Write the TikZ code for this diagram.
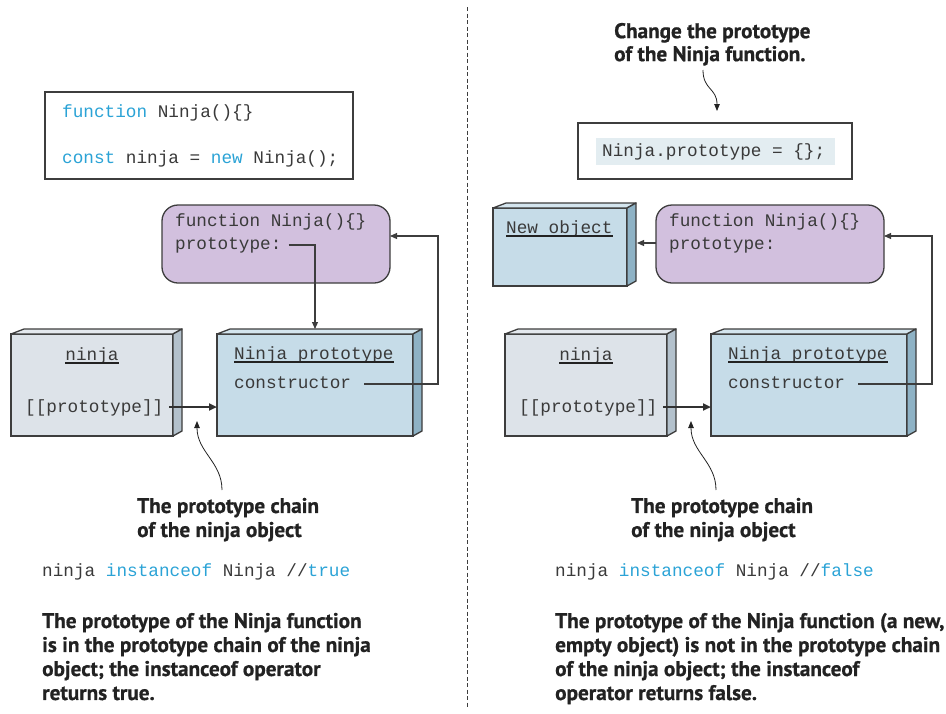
\documentclass[tikz,border=0pt]{standalone}
\usepackage{fontspec}
\setmainfont{PT Sans}
\newfontfamily\monof{Liberation Mono}
\newfontfamily\lblf{PT Sans}[BoldFeatures={FakeBold=0.8}]
\usetikzlibrary{arrows.meta}
\definecolor{edge}{HTML}{3D3D3D}
\definecolor{codegray}{HTML}{3A3A3A}
\definecolor{kwblue}{HTML}{2BA3D6}
\definecolor{purp}{HTML}{D2C0DE}
\definecolor{ninjafront}{HTML}{DDE3E9}
\definecolor{ninjaside}{HTML}{B3C1CC}
\definecolor{ninjatop}{HTML}{E4E9EE}
\definecolor{protofront}{HTML}{C6DCE8}
\definecolor{protoside}{HTML}{8EB2C5}
\definecolor{prototop}{HTML}{D4E5EE}
\definecolor{hilite}{HTML}{E3EDF1}
\definecolor{labelc}{HTML}{222222}
\newcommand\kw[1]{\textcolor{kwblue}{#1}}
\newcommand\objfaces[3]{%
  \filldraw[fill=#3,draw=edge,line width=1.3pt,line join=round]
    (#1.north west) -- ([shift={(13,-5)}]#1.north west) -- ([shift={(9,-5)}]#1.north east) -- (#1.north east) -- cycle;
  \filldraw[fill=#2,draw=edge,line width=1.3pt,line join=round]
    (#1.north east) -- ([shift={(9,-5)}]#1.north east) -- ([shift={(9,-5)}]#1.south east) -- (#1.south east) -- cycle;
}
\begin{document}
\begin{tikzpicture}[x=1pt,y=-1pt,
  mono/.style={font=\monof\fontsize{17.7}{20}\selectfont, text=codegray, inner sep=0pt, anchor=base west},
  lbl/.style={font=\lblf\bfseries\fontsize{21.2}{24}\selectfont, text=labelc, inner sep=0pt, anchor=north west, align=left},
  codebox/.style={draw=edge, line width=1.2pt, fill=white, inner sep=0pt, outer sep=0pt},
  fnbox/.style={draw=edge, line width=1.3pt, fill=purp, rounded corners=16pt, inner sep=0pt, outer sep=0pt, minimum width=228pt, minimum height=78pt},
  objbox/.style={draw=edge, line width=1.3pt, inner sep=0pt, outer sep=0pt},
  con/.style={draw=edge, line width=1.1pt, -{Triangle[length=7pt,width=6pt]}},
  thickcon/.style={draw=edge!80!black, line width=2.6pt, -{Triangle[length=8pt,width=7pt]}},
  curvecon/.style={draw=labelc, line width=0.8pt, -{Triangle[length=7pt,width=5.5pt]}},
  uline/.style={draw=labelc, line width=1.4pt}
]
\useasboundingbox (0,0) rectangle (946,713);

% divider
\coordinate (dtop) at (467,7);
\coordinate (dbot) at (467,708);
\draw[edge, line width=1pt, dash pattern=on 4pt off 2.5pt] (dtop) -- (dbot);

% ================= LEFT =================
\node[codebox, minimum width=308pt, minimum height=87pt] (codeL) at (199,135.5) {};
\node[mono] (c1) at (62,117) {\kw{function} Ninja()\{\}};
\node[mono] (c2) at (62,163) {\kw{const} ninja = \kw{new} Ninja();};

\node[fnbox] (fnL) at (276,244) {};
\node[mono] (fnL1) at (175,226) {function Ninja()\{\}};
\node[mono] (fnL2) at (175,249) {prototype:};

\node[objbox, fill=ninjafront, minimum width=162pt, minimum height=102pt] (ninL) at (92,385) {};
\objfaces{ninL}{ninjaside}{ninjatop}
\node[mono, anchor=base] (ninLt) at (92,360) {ninja};
\draw[uline] ([yshift=-3pt]ninLt.base west) -- ([yshift=-3pt]ninLt.base east);
\node[mono] (ppL) at (25,412) {[[prototype]]};

\node[objbox, fill=protofront, minimum width=196pt, minimum height=102pt] (proL) at (315,385) {};
\objfaces{proL}{protoside}{prototop}
\node[mono] (proLt) at (234,359) {Ninja prototype};
\draw[uline] ([yshift=-3pt]proLt.base west) -- ([yshift=-3pt]proLt.base east);
\node[mono] (ctorL) at (234,388) {constructor};

% connectors left
\draw[con] ([shift={(7,-4)}]fnL2.base east) -| ([yshift=5pt]proL.north);
\coordinate (kL) at (438,236);
\draw[con] ([shift={(13,-4)}]ctorL.base east) -| (kL) -- ([yshift=8pt]fnL.east);
\coordinate (ppLs) at ([shift={(6,-5)}]ppL.base east);
\draw[thickcon] (ppLs) -- (ppLs -| proL.west);

\node[lbl] (chainL) at (137,497.7) {The prototype chain\\of the ninja object};
\coordinate (cvL1) at (222,490);
\coordinate (cvL2) at (197,421);
\draw[curvecon] (cvL1) .. controls (222,462) and (197,452) .. (cvL2);

\node[mono] (instL) at (42,576) {ninja \kw{instanceof} Ninja //\kw{true}};
\node[lbl] (descL) at (42,612.7) {The prototype of the Ninja function\\is in the prototype chain of the ninja\\object; the instanceof operator\\returns true.};

% ================= RIGHT =================
\node[lbl, font=\lblf\bfseries\fontsize{21.2}{23}\selectfont] (chg) at (614,22.8) {Change the prototype\\of the Ninja function.};
\coordinate (cvT1) at (703,70);
\coordinate (cvT2) at (717,111);
\draw[curvecon] (cvT1) .. controls (703,90) and (717,88) .. (cvT2);

\node[codebox, minimum width=274pt, minimum height=56pt] (codeR) at (715,151) {};
\node[fill=hilite, inner sep=0pt, minimum width=239pt, minimum height=27pt] (hl) at (715.5,151.5) {};
\node[mono] (c3) at (602,156) {Ninja.prototype = \{\};};

\node[objbox, fill=protofront, minimum width=134pt, minimum height=78pt] (newo) at (560,247) {};
\objfaces{newo}{protoside}{prototop}
\node[mono] (newot) at (506,233) {New object};
\draw[uline] ([yshift=-3pt]newot.base west) -- ([yshift=-3pt]newot.base east);

\node[fnbox] (fnR) at (770,244) {};
\node[mono] (fnR1) at (669,226) {function Ninja()\{\}};
\node[mono] (fnR2) at (669,249) {prototype:};
\coordinate (newside) at ([xshift=10pt]newo.east);
\draw[con] ([yshift=1pt]fnR.west) -- ([yshift=1pt]fnR.west -| newside);

\node[objbox, fill=ninjafront, minimum width=162pt, minimum height=102pt] (ninR) at (586,385) {};
\objfaces{ninR}{ninjaside}{ninjatop}
\node[mono, anchor=base] (ninRt) at (586,360) {ninja};
\draw[uline] ([yshift=-3pt]ninRt.base west) -- ([yshift=-3pt]ninRt.base east);
\node[mono] (ppR) at (519,412) {[[prototype]]};

\node[objbox, fill=protofront, minimum width=196pt, minimum height=102pt] (proR) at (809,385) {};
\objfaces{proR}{protoside}{prototop}
\node[mono] (proRt) at (728,359) {Ninja prototype};
\draw[uline] ([yshift=-3pt]proRt.base west) -- ([yshift=-3pt]proRt.base east);
\node[mono] (ctorR) at (728,388) {constructor};

\coordinate (kR) at (932,236);
\draw[con] ([shift={(13,-4)}]ctorR.base east) -| (kR) -- ([yshift=8pt]fnR.east);
\coordinate (ppRs) at ([shift={(6,-5)}]ppR.base east);
\draw[thickcon] (ppRs) -- (ppRs -| proR.west);

\node[lbl] (chainR) at (631,497.7) {The prototype chain\\of the ninja object};
\coordinate (cvR1) at (716,490);
\coordinate (cvR2) at (691,421);
\draw[curvecon] (cvR1) .. controls (716,462) and (691,452) .. (cvR2);

\node[mono] (instR) at (555,576) {ninja \kw{instanceof} Ninja //\kw{false}};
\node[lbl] (descR) at (555,612.7) {The prototype of the Ninja function (a new,\\empty object) is not in the prototype chain\\of the ninja object; the instanceof\\operator returns false.};
\end{tikzpicture}
\end{document}
